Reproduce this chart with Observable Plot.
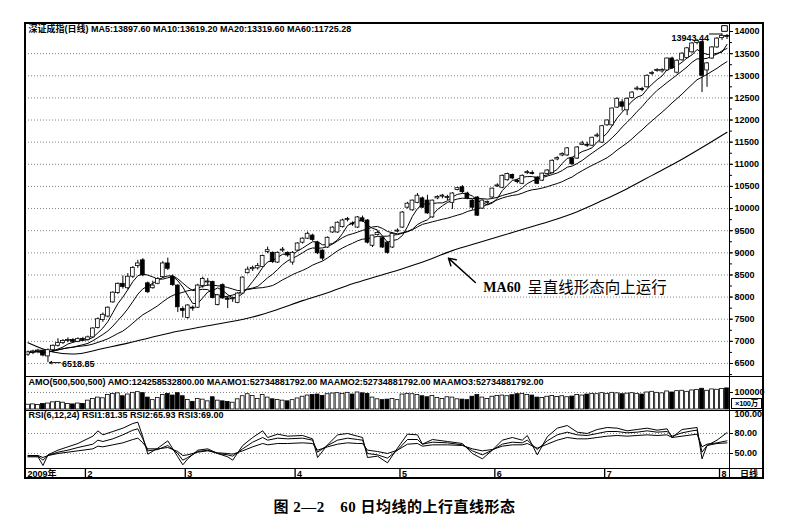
<!DOCTYPE html>
<html><head><meta charset="utf-8">
<script src="https://cdn.jsdelivr.net/npm/d3@7"></script>
<script src="https://cdn.jsdelivr.net/npm/@observablehq/plot@0.6"></script>
<style>
body{margin:0;background:#fff;}
#wrap{position:relative;width:785px;height:530px;overflow:hidden;font-family:"Liberation Sans","Noto Sans CJK SC",sans-serif;}
#wrap svg{display:block;}
.ln{position:absolute;background:#000;}
.lbl{position:absolute;font-size:9px;font-weight:bold;white-space:nowrap;line-height:1;}
#cap{position:absolute;left:0;top:495px;width:785px;text-align:center;padding-left:4px;box-sizing:border-box;font-family:"Liberation Serif","Noto Sans CJK SC",serif;font-size:15px;font-weight:bold;letter-spacing:0.5px;}
</style></head>
<body><div id="wrap"></div>
<script>
// ---- data (index = trading day, Jan 2009 .. Aug 2009) ----
const opens=[6700,6750,6770,6790,6660,6800,6900,6960,7010,7030,
6990,7050,7030,7090,7300,7480,7560,7880,8090,8300,
8200,8460,8700,8830,8310,8200,8300,8450,8760,8450,
8260,7730,7530,7760,7760,8250,8330,8340,7820,8270,
7970,7950,7870,8080,8540,8630,8650,8680,9020,9000,
8780,9050,9000,8780,9050,9230,9320,9390,9230,9050,
9120,9460,9460,9580,9740,9650,9570,9780,9730,9160,
9400,9330,9230,9120,9480,9570,10020,9960,10130,10230,
10180,9800,10230,10270,10240,10130,10420,10480,10340,10180,
10250,10000,10130,10250,10500,10470,10640,10760,10620,10560,
10800,10800,10700,10630,10780,10800,11110,11200,11200,11130,
11130,11440,11430,11420,11630,11490,11880,11880,12280,12400,
12220,12500,12690,12700,12740,13040,13110,13100,13120,13390,
13070,13350,13400,13530,13740,13760,13120,13390,13640,13850,
13900];
const highs=[6780,6800,6820,6800,6830,6920,7060,7040,7080,7060,
7080,7090,7120,7310,7530,7640,7780,8120,8320,8480,
8530,8690,8830,8870,8340,8360,8440,8800,8880,8500,
8280,7780,7830,7800,8290,8450,8420,8360,8060,8300,
8010,8000,8100,8460,8680,8700,8760,8950,9130,9020,
9020,9120,9020,9030,9230,9340,9470,9420,9260,9070,
9360,9590,9700,9760,9800,9700,9820,9830,9750,9400,
9480,9350,9250,9450,9540,9930,10140,10190,10340,10260,
10300,10190,10290,10320,10300,10360,10480,10520,10370,10200,
10270,10200,10170,10460,10560,10760,10800,10780,10660,10760,
10860,10850,10720,10800,10880,11100,11170,11260,11380,11150,
11400,11520,11500,11610,11700,11880,12000,12270,12500,12460,
12500,12640,12760,12740,13020,13100,13160,13160,13400,13420,
13360,13520,13640,13750,13820,13780,13300,13660,13860,13943.44,
13930];
const lows=[6660,6700,6720,6650,6518.85,6760,6870,6930,6970,6960,
6970,7000,7010,7070,7280,7430,7530,7860,8060,8180,
8160,8420,8650,8460,8080,8180,8280,8430,8600,8240,
7650,7530,7500,7680,7740,8200,8240,7960,7800,7950,
7740,7880,7850,8060,8520,8580,8610,8660,8980,8760,
8760,9010,8900,8720,9030,9200,9300,9260,8960,8820,
9100,9440,9440,9560,9700,9600,9550,9690,9200,9120,
9380,9100,8970,9100,9450,9550,9990,9940,10110,10000,
9870,9780,10200,10220,10180,9980,10400,10340,10200,9960,
9820,9980,10090,10230,10480,10450,10620,10650,10560,10540,
10770,10760,10540,10610,10760,10780,11080,11170,11180,10980,
11110,11420,11380,11400,11600,11470,11860,11860,12260,12200,
12100,12480,12660,12640,12720,13000,13080,13060,13100,13150,
13040,13330,13380,13510,13700,12620,12740,13370,13620,13800,
13820];
const closes=[6750,6770,6790,6680,6800,6900,6960,7010,7030,6990,
7050,7030,7090,7290,7500,7600,7760,8100,8300,8230,
8460,8660,8760,8490,8110,8260,8410,8760,8640,8270,
7770,7690,7810,7740,8260,8410,8350,7980,8040,7970,
7940,7970,8080,8440,8620,8660,8700,8930,9060,8790,
9000,9060,8940,9000,9210,9320,9430,9290,8990,8870,
9340,9570,9680,9730,9760,9640,9800,9710,9230,9390,
9450,9120,9000,9430,9500,9910,10110,10180,10290,10020,
9890,10180,10260,10290,10250,10340,10460,10370,10230,10020,
9840,10180,10140,10450,10520,10740,10780,10680,10600,10740,
10810,10780,10560,10790,10860,11080,11140,11230,11360,11000,
11380,11470,11420,11600,11650,11860,11990,12260,12480,12300,
12480,12620,12710,12680,13000,13050,13120,13130,13390,13170,
13340,13500,13620,13730,13780,13000,13280,13640,13840,13900,
13880];
const volumes=[28000,30000,26000,32000,35000,42000,45000,40000,32000,30000,
35000,33000,52000,62000,70000,66000,85000,92000,95000,78000,
88000,98000,102000,96000,70000,55000,68000,85000,92000,82000,
96000,78000,56000,45000,62000,58000,48000,72000,52000,48000,
44000,40000,60000,78000,90000,80000,62000,85000,70000,60000,
56000,52000,48000,55000,65000,75000,82000,85000,88000,80000,
90000,94000,96000,92000,98000,88000,100000,95000,92000,70000,
60000,55000,58000,62000,55000,88000,92000,90000,85000,78000,
72000,80000,68000,62000,72000,70000,60000,58000,55000,75000,
85000,70000,62000,75000,80000,82000,78000,84000,90000,92000,
86000,82000,70000,68000,75000,80000,74000,78000,72000,76000,
85000,82000,88000,92000,90000,96000,92000,98000,95000,90000,
93000,96000,92000,88000,100000,104000,98000,95000,106000,100000,
108000,110000,104000,112000,115000,122000,110000,118000,116000,120000,
124000];
const ma60Idx=[0,5,10,15,20,25,30,35,40,45,50,55,60,65,70,75,80,85,90,95,100,105,110,115,120,125,130,135,140];
const ma60Vals=[6970,6760,6720,6840,6960,7100,7230,7330,7430,7550,7720,7920,8100,8300,8470,8640,8830,9050,9220,9390,9560,9730,9930,10180,10450,10750,11050,11380,11725];
const rsiIdx=[0,2,3,4,6,8,10,13,14,15,17,19,21,22,23,24,26,28,30,31,32,34,36,38,40,41,43,45,47,48,50,52,55,57,58,60,62,64,66,67,68,70,72,74,76,78,79,81,84,87,89,91,93,95,97,99,100,102,104,106,108,110,112,114,116,118,120,122,124,126,128,129,131,133,134,135,136,138,140];
const rsi6=[45,45,32,48,55,60,65,76,84,78,83,88,95,97,75,49,58,69,45,33,42,55,57,50,45,40,62,74,84,74,79,76,77,72,44,63,78,80,76,74,44,46,36,58,79,78,64,71,68,65,50,42,55,70,74,70,77,48,75,88,92,82,80,86,89,88,84,86,88,85,87,74,86,88,89,42,62,70,81.35];
const rsi12=[46,46,40,47,52,55,59,64,70,68,72,78,85,87,72,54,56,62,50,40,44,53,55,50,48,46,57,67,74,70,73,72,73,70,52,62,70,73,71,70,50,48,43,55,71,71,64,67,66,63,54,48,55,64,67,66,70,56,69,78,82,78,77,80,83,83,81,82,84,82,83,76,81,84,85,52,62,65,65.93];
const rsi24=[47,47,44,47,50,52,54,57,61,60,63,66,71,73,66,57,57,59,53,47,48,52,54,51,50,49,54,60,65,63,65,65,66,65,55,60,64,66,65,65,55,53,50,55,64,65,61,63,63,62,57,54,56,61,63,63,65,58,64,70,74,72,72,74,76,77,76,77,78,77,78,74,76,78,79,60,64,66,69.00];
const priceTicks=d3.range(6500,14001,500);
const gridTicks=d3.range(6500,13501,500);
const minorTicks=d3.range(6250,14001,250);
const monthStartIdx=[0,12,32,54,75,94,116,139];
const monthLabels=["2009年","2","3","4","5","6","7","8"];
const maNames=["MA5","MA10","MA20","MA60"];
const maLast=[13897.60,13619.20,13319.60,11725.28];
const amoNames=["AMO","MAAMO1","MAAMO2","MAAMO3"];
const amoLast=["124258532800.00","52734881792.00","52734881792.00","52734881792.00"];
const rsiNames=["RSI1","RSI2","RSI3"];
const rsiLast=["81.35","65.93","69.00"];
const annoIdx=91.2, annoPrice=8206;           // annotation text anchor
const arrowFrom={i:89.6,v:8330}, arrowTo={i:84.2,v:8880};

// ---- derived tables ----
const N=closes.length;
const bars=closes.map((c,i)=>({i,o:opens[i],h:highs[i],l:lows[i],c,v:volumes[i],up:c>=opens[i]}));
function movingAvg(n){return closes.map((_,i)=>({i,v:d3.mean(closes.slice(Math.max(0,i-n+1),i+1))}));}
const ma5=movingAvg(5),ma10=movingAvg(10),ma20=movingAvg(20);
const ma60=ma60Idx.map((i,k)=>({i,v:ma60Vals[k]}));
const hiIdx=d3.maxIndex(highs), loIdx=d3.minIndex(lows);
const hi={i:hiIdx,v:highs[hiIdx]}, lo={i:loIdx,v:lows[loIdx]};
const rsiData=(arr)=>rsiIdx.map((i,k)=>({i,v:arr[k]}));
const minBody=22;

const FONT="'Liberation Sans','Noto Sans CJK SC',sans-serif";
const base={width:785,marginLeft:25,marginRight:56,marginTop:0,marginBottom:0,
  x:{domain:[-0.5,N-0.5],axis:null},color:{type:"identity"},
  style:{fontFamily:FONT,background:"transparent",overflow:"visible",fontSize:"9px"}};
const wrap=document.getElementById("wrap");
function place(el,top){const d=document.createElement("div");d.style.cssText=`position:absolute;left:0;top:${top}px;`;d.appendChild(el);wrap.appendChild(d);}
const dotted={stroke:"#666",strokeDasharray:"1,2",strokeWidth:0.8,strokeOpacity:1};
const ax=(ticks,o)=>Plot.axisY(ticks,{anchor:"right",label:null,tickSize:3,tickPadding:2,fontWeight:"bold",fontSize:9,...o});
const candleMarks=()=>[
  Plot.ruleX(bars,{x:"i",y1:"l",y2:"h",stroke:"#000",strokeWidth:1}),
  Plot.rect(bars,{x1:d=>d.i-0.38,x2:d=>d.i+0.38,y1:d=>Math.min(d.o,d.c),y2:d=>Math.max(d.o,d.c,Math.min(d.o,d.c)+minBody),
    fill:d=>d.up?"#fff":"#000",stroke:"#000",strokeWidth:0.8})
];

// ---- price panel ----
const price=Plot.plot({...base,height:353,
  y:{domain:[6206,14181],axis:null},
  marks:[
    Plot.gridY(gridTicks,dotted),
    ax(minorTicks,{tickSize:2,tickFormat:()=>""}),
    ax(priceTicks,{tickFormat:d=>String(d)}),
    Plot.line(ma60,{x:"i",y:"v",stroke:"#000",strokeWidth:1.1,curve:"catmull-rom"}),
    Plot.line(ma20,{x:"i",y:"v",stroke:"#000",strokeWidth:1}),
    Plot.line(ma10,{x:"i",y:"v",stroke:"#000",strokeWidth:1}),
    Plot.line(ma5,{x:"i",y:"v",stroke:"#000",strokeWidth:1}),
    ...candleMarks(),
    Plot.text(["深证成指(日线) "+maNames.map((n,k)=>n+":"+maLast[k].toFixed(2)).join(" ")],
      {frameAnchor:"top-left",dx:3,dy:2,lineAnchor:"top",textAnchor:"start",text:d=>d,fontSize:9,fontWeight:"bold"}),
    Plot.text([hi],{x:"i",y:"v",text:d=>d.v.toFixed(2),textAnchor:"end",dx:-13,dy:4.5,fontSize:9,fontWeight:"bold"}),
    Plot.link([hi],{x1:d=>d.i-2.6,x2:"i",y1:"v",y2:"v",stroke:"#000",strokeWidth:1}),
    Plot.text([lo],{x:"i",y:"v",text:d=>d.v.toFixed(2),textAnchor:"start",dx:14,dy:1,fontSize:9,fontWeight:"bold"}),
    Plot.arrow([lo],{x1:d=>d.i+2.5,x2:d=>d.i+0.3,y1:"v",y2:"v",stroke:"#000",strokeWidth:1,headLength:4}),
    Plot.arrow([{a:arrowFrom,b:arrowTo}],{x1:d=>d.a.i,y1:d=>d.a.v,x2:d=>d.b.i,y2:d=>d.b.v,stroke:"#000",strokeWidth:1.5,headLength:8}),
    Plot.text([{i:annoIdx,v:annoPrice}],{x:"i",y:"v",text:()=>"MA60",textAnchor:"start",fontSize:14,fontWeight:"bold",fontFamily:"'Liberation Serif',serif"}),
    Plot.text([{i:annoIdx,v:annoPrice}],{x:"i",y:"v",text:()=>"呈直线形态向上运行",textAnchor:"start",dx:44,fontSize:15.5,fontFamily:"'Noto Sans CJK SC',sans-serif"}),
    Plot.dot([0],{frameAnchor:"top-right",dx:-5,dy:5,symbol:"square",r:3.2,stroke:"#000",fill:"#fff",strokeWidth:1})
  ]});
place(price,23);

// ---- volume panel ----
const vol=Plot.plot({...base,height:34,marginBottom:1,
  y:{domain:[0,194000],axis:null},
  marks:[
    Plot.gridY([100000],dotted),
    ax([100000],{tickFormat:d=>String(d)}),
    Plot.rectY(bars,{x1:d=>d.i-0.38,x2:d=>d.i+0.38,y:"v",fill:d=>d.up?"#fff":"#000",stroke:"#000",strokeWidth:0.8}),
    Plot.text(["AMO(500,500,500) "+amoNames.map((n,k)=>n+":"+amoLast[k]).join(" ")],
      {frameAnchor:"top-left",dx:3,dy:2,lineAnchor:"top",textAnchor:"start",text:d=>d,fontSize:9,fontWeight:"bold"})
  ]});
place(vol,376);

// ---- RSI panel ----
const rsi=Plot.plot({...base,height:58,
  y:{domain:[27.5,114.5],axis:null},
  marks:[
    Plot.gridY([50,80],dotted),
    ax([50,80],{tickFormat:d=>d.toFixed(2)}),
    ax([100],{tickSize:0,tickPadding:5,dy:-6,tickFormat:d=>d.toFixed(2)}),
    Plot.line(rsiData(rsi24),{x:"i",y:"v",stroke:"#000",strokeWidth:1}),
    Plot.line(rsiData(rsi12),{x:"i",y:"v",stroke:"#000",strokeWidth:1}),
    Plot.line(rsiData(rsi6),{x:"i",y:"v",stroke:"#000",strokeWidth:1}),
    Plot.text(["RSI(6,12,24) "+rsiNames.map((n,k)=>n+":"+rsiLast[k]).join(" ")],
      {frameAnchor:"top-left",dx:3,dy:1,lineAnchor:"top",textAnchor:"start",text:d=>d,fontSize:9,fontWeight:"bold"})
  ]});
place(rsi,410);

// ---- date strip ----
const months=monthStartIdx.map((i,k)=>({i,t:monthLabels[k]}));
const strip=Plot.plot({...base,height:10,
  marks:[
    Plot.ruleX(months.slice(1),{x:d=>d.i-0.5,stroke:"#000",strokeWidth:1.3}),
    Plot.text(months,{x:d=>d.i-0.5,text:"t",textAnchor:"start",dx:2,dy:0.5,fontSize:9,fontWeight:"bold",frameAnchor:"middle"})
  ]});
place(strip,468);

// ---- frame lines ----
function line(l,t,w,h){const d=document.createElement("div");d.className="ln";d.style.cssText+=`left:${l}px;top:${t}px;width:${w}px;height:${h}px;`;wrap.appendChild(d);}
line(24,22,739,1.5); line(24,477,739,1.5);
line(24,22,2,457); line(762,22,1.5,457);
line(728.5,22,1.5,457);
line(24,375.5,739,1.8); line(24,409.5,739,1); line(24,467.5,739,1.5);
function label(txt,l,t,extra){const d=document.createElement("div");d.className="lbl";d.textContent=txt;d.style.cssText+=`left:${l}px;top:${t}px;`+(extra||"");wrap.appendChild(d);}
label("×100万",731,398,"border:1px solid #000;padding:0;width:29px;text-align:center;font-size:7.5px;height:9px;line-height:9px;letter-spacing:-0.3px;");
label("日线",740,469,"font-size:9px;font-family:'Noto Sans CJK SC',sans-serif;");
const cap=document.createElement("div");cap.id="cap";cap.textContent="图 2—2　60 日均线的上行直线形态";wrap.appendChild(cap);
</script>
</body></html>
